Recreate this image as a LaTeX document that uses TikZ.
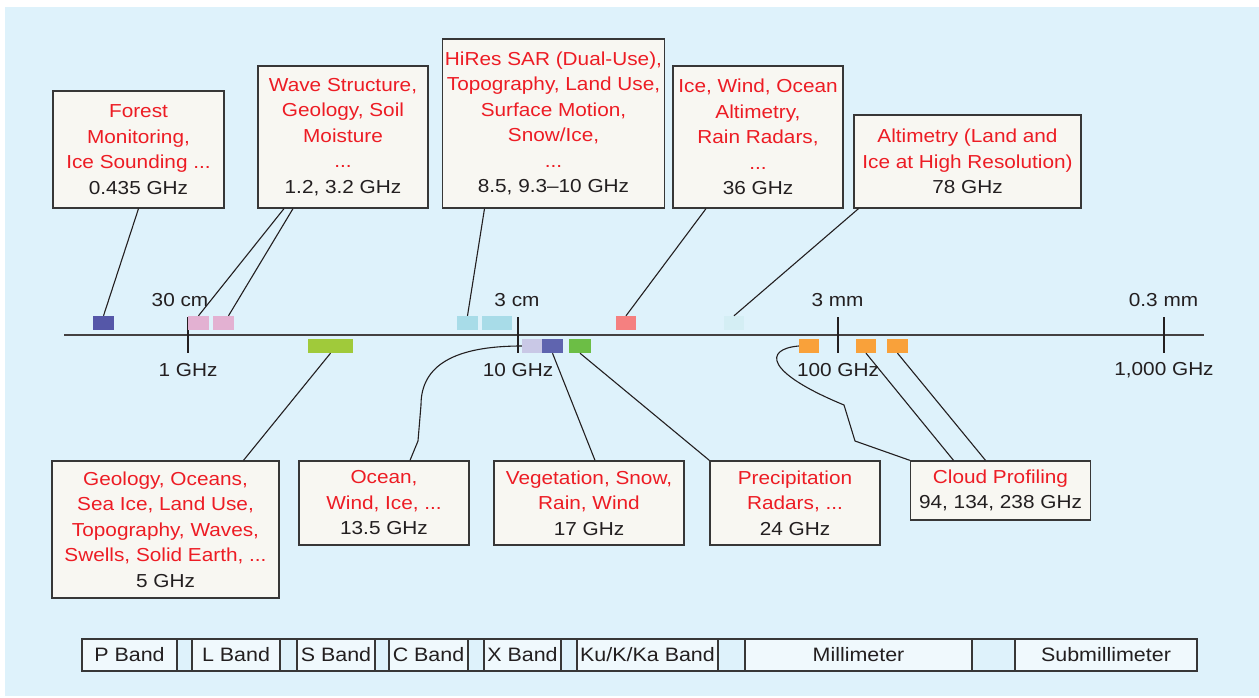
\documentclass[tikz,border=0pt]{standalone}
\usepackage{fontspec}
\setmainfont{Liberation Sans}[FakeStretch=1.105]
\usepackage{xcolor}
\usepackage{tikz}
\definecolor{bgblue}{RGB}{222,242,251}
\definecolor{boxfill}{RGB}{248,247,242}
\definecolor{cellfill}{RGB}{240,249,253}
\definecolor{edge}{RGB}{55,55,55}
\definecolor{appred}{RGB}{237,28,36}
\definecolor{ink}{RGB}{35,31,32}
\definecolor{pnavy}{RGB}{85,87,168}
\definecolor{lpink}{RGB}{227,177,210}
\definecolor{xcyan}{RGB}{168,220,232}
\definecolor{cgreen}{RGB}{160,202,58}
\definecolor{kulav}{RGB}{201,200,230}
\definecolor{kunavy}{RGB}{95,100,175}
\definecolor{kgreen}{RGB}{108,190,69}
\definecolor{kasalmon}{RGB}{245,128,128}
\definecolor{wcyan}{RGB}{212,238,244}
\definecolor{mmorange}{RGB}{249,161,58}
\newcommand{\app}[1]{\textcolor{appred}{#1}}

\begin{document}
\begin{tikzpicture}[x=1pt, y=-1pt,
  infobox/.style={draw=edge, line width=1.3pt, fill=boxfill, align=center, inner sep=0pt, text=ink, font=\fontsize{18.8}{25.5}\selectfont},
  chip/.style={minimum width=20pt, minimum height=14pt, inner sep=0pt},
  tag/.style={text=ink, inner sep=0pt, font=\fontsize{18.8}{25.5}\selectfont},
  bandcell/.style={draw=edge, line width=1.2pt, fill=cellfill, minimum height=32pt, inner sep=0pt, text=ink, font=\fontsize{19.4}{22}\selectfont},
  link/.style={draw=ink, line width=1.1pt},
  tickline/.style={draw=ink, line width=1.2pt}]
\useasboundingbox (0,0) rectangle (1259,698);
\fill[bgblue] (5,7) rectangle (1259,696);

\node[infobox, minimum width=171pt, minimum height=117pt] (forest) at (138.5,149.5) {\app{Forest}\\\app{Monitoring,}\\\app{Ice Sounding ...}\\0.435 GHz};
\node[infobox, minimum width=170pt, minimum height=142pt] (wave) at (343,137) {\app{Wave Structure,}\\\app{Geology, Soil}\\\app{Moisture}\\\app{...}\\1.2, 3.2 GHz};
\node[infobox, minimum width=222pt, minimum height=169pt] (hires) at (553.5,123.5) {\app{HiRes SAR (Dual-Use),}\\\app{Topography, Land Use,}\\\app{Surface Motion,}\\\app{Snow/Ice,}\\\app{...}\\8.5, 9.3–10 GHz};
\node[infobox, minimum width=170pt, minimum height=142pt] (icewind) at (758,137) {\app{Ice, Wind, Ocean}\\\app{Altimetry,}\\\app{Rain Radars,}\\\app{...}\\36 GHz};
\node[infobox, minimum width=227pt, minimum height=93pt] (altim) at (967.5,161.5) {\app{Altimetry (Land and}\\\app{Ice at High Resolution)}\\78 GHz};

\node[infobox, minimum width=227pt, minimum height=137pt] (geology) at (165.5,529.5) {\app{Geology, Oceans,}\\\app{Sea Ice, Land Use,}\\\app{Topography, Waves,}\\\app{Swells, Solid Earth, ...}\\5 GHz};
\node[infobox, minimum width=170pt, minimum height=84pt] (ocean) at (384,503) {\app{Ocean,}\\\app{Wind, Ice, ...}\\13.5 GHz};
\node[infobox, minimum width=190pt, minimum height=84pt] (veg) at (589,503) {\app{Vegetation, Snow,}\\\app{Rain, Wind}\\17 GHz};
\node[infobox, minimum width=170pt, minimum height=84pt] (precip) at (795,503) {\app{Precipitation}\\\app{Radars, ...}\\24 GHz};
\node[infobox, minimum width=180pt, minimum height=59pt] (cloud) at (1000.5,490.5) {\app{Cloud Profiling}\\94, 134, 238 GHz};

\draw[draw=ink!85, line width=2.2pt] (64,335) coordinate (axl) -- (1204,335) coordinate (axr);
\draw[tickline] (188,317) -- (188,353);
\draw[tickline] (518,317) -- (518,353);
\draw[tickline] (838,317) -- (838,353);
\draw[tickline] (1164,317) -- (1164,353);
\node[tag] (cm30) at (180,300) {30 cm};
\node[tag] (cm3) at (517,300) {3 cm};
\node[tag] (mm3) at (837.5,300) {3 mm};
\node[tag] (mm03) at (1163.5,300) {0.3 mm};
\node[tag] (ghz1) at (188,370) {1 GHz};
\node[tag] (ghz10) at (518,370) {10 GHz};
\node[tag] (ghz100) at (838,370) {100 GHz};
\node[tag] (ghz1000) at (1164,370) {1,000 GHz};

\node[chip, fill=pnavy, minimum width=21pt] (chipP) at (103.5,323) {};
\node[chip, fill=lpink, minimum width=21pt] (chipLa) at (198.5,323) {};
\node[chip, fill=lpink, minimum width=21pt] (chipLb) at (223.5,323) {};
\node[chip, fill=xcyan, minimum width=21pt] (chipXa) at (467.5,323) {};
\node[chip, fill=xcyan, minimum width=30pt] (chipXb) at (497,323) {};
\node[chip, fill=kasalmon] (chipKa) at (626,323) {};
\node[chip, fill=wcyan] (chipW) at (734,323) {};
\node[chip, fill=cgreen, minimum width=45pt] (chipC) at (330.5,346) {};
\node[chip, fill=kulav] (chipKuL) at (532,346) {};
\node[chip, fill=kunavy, minimum width=21pt] (chipKuN) at (552.5,346) {};
\node[chip, fill=kgreen, minimum width=22pt] (chipK) at (580,346) {};
\node[chip, fill=mmorange] (chipMa) at (809,346) {};
\node[chip, fill=mmorange] (chipMb) at (866,346) {};
\node[chip, fill=mmorange, minimum width=21pt] (chipMc) at (897.5,346) {};

\draw[link] (forest.south) -- (chipP.north);
\draw[link] ([xshift=-59pt]wave.south) -- (chipLa.north);
\draw[link] ([xshift=-50pt]wave.south) -- ([xshift=5pt]chipLb.north);
\draw[link] ([xshift=-69pt]hires.south) -- (chipXa.north);
\draw[link] ([xshift=-52pt]icewind.south) -- (chipKa.north);
\draw[link] ([xshift=-109pt]altim.south) -- (chipW.north);
\draw[link] (chipC.south) -- ([xshift=78pt]geology.north);
\draw[link] (chipKuL.west) .. controls (455,346) and (421,365) .. (421,405) -- (418,441) -- ([xshift=26pt]ocean.north);
\draw[link] (chipKuN.south) -- ([xshift=6pt]veg.north);
\draw[link] (chipK.south) -- (precip.north west);
\draw[link] (chipMa.west) .. controls (764,349) and (764,372) .. (844,405) -- (855,441) -- (cloud.north west);
\draw[link] (chipMb.south) -- ([xshift=-47pt]cloud.north);
\draw[link] (chipMc.south) -- ([xshift=-15pt]cloud.north);

\node[draw=edge, line width=1.2pt, minimum width=1115pt, minimum height=32pt, inner sep=0pt] (strip) at (639.5,655) {};
\node[bandcell, minimum width=95pt] (pband) at (129.5,655) {P Band};
\node[bandcell, minimum width=88pt] (lband) at (236,655) {L Band};
\node[bandcell, minimum width=78pt] (sband) at (336,655) {S Band};
\node[bandcell, minimum width=79pt] (cband) at (428.5,655) {C Band};
\node[bandcell, minimum width=77pt] (xband) at (522.5,655) {X Band};
\node[bandcell, minimum width=141pt] (kuband) at (647.5,655) {Ku/K/Ka Band};
\node[bandcell, minimum width=227pt] (mmband) at (858.5,655) {Millimeter};
\node[bandcell, minimum width=182pt] (submm) at (1106,655) {Submillimeter};
\end{tikzpicture}
\end{document}
